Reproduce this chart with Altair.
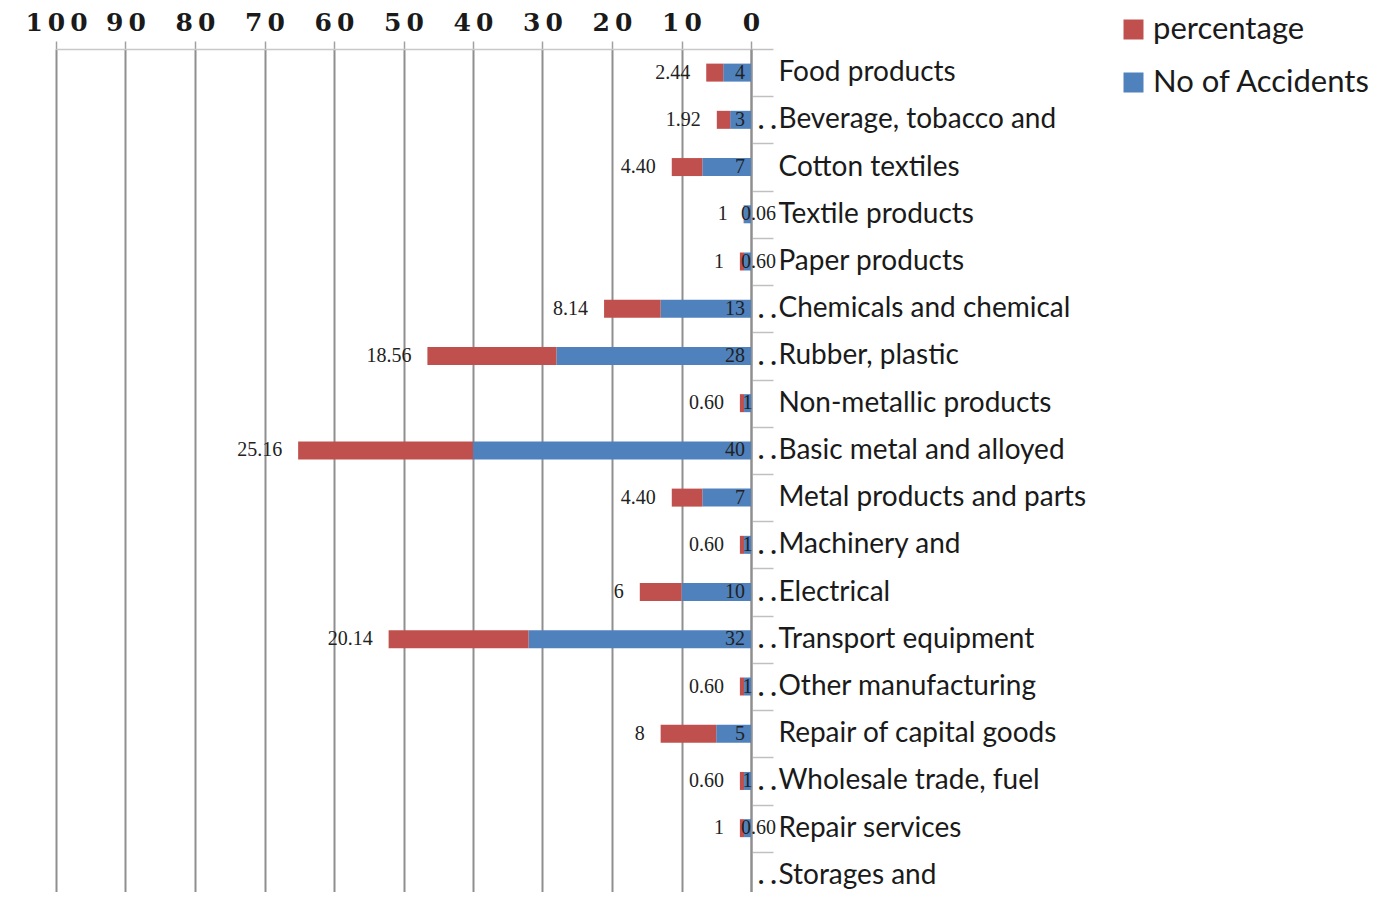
import altair as alt
import pandas as pd

categories = ["Food products", "Beverage, tobacco and", "Cotton textiles", "Textile products",
              "Paper products", "Chemicals and chemical", "Rubber, plastic", "Non-metallic products",
              "Basic metal and alloyed", "Metal products and parts", "Machinery and", "Electrical",
              "Transport equipment", "Other manufacturing", "Repair of capital goods",
              "Wholesale trade, fuel", "Repair services", "Storages and"]
accidents = [4, 3, 7, 1, 1, 13, 28, 1, 40, 7, 1, 10, 32, 1, 5, 1, 1, 0]
percentage = [2.44, 1.92, 4.40, 0.06, 0.60, 8.14, 18.56, 0.60, 25.16, 4.40, 0.60, 6, 20.14, 0.60, 8, 0.60, 0.60, 0]
left_labels = ["2.44", "1.92", "4.40", "1", "1", "8.14", "18.56", "0.60", "25.16", "4.40", "0.60", "6",
               "20.14", "0.60", "8", "0.60", "1", ""]
right_labels = ["4", "3", "7", "0.06", "0.60", "13", "28", "1", "40", "7", "1", "10", "32", "1", "5", "1",
                "0.60", ""]
truncated = [False, True, False, False, False, True, True, False, True, False, True, True, True, True,
             False, True, False, True]
tick_values = [0, 10, 20, 30, 40, 50, 60, 70, 80, 90, 100]

RED = "#C0504D"
BLUE = "#4F81BD"

rows = []
for i, c in enumerate(categories):
    rows.append({"cat": c, "series": "No of Accidents", "value": accidents[i], "ord": 0})
    rows.append({"cat": c, "series": "percentage", "value": percentage[i], "ord": 1})
long_df = pd.DataFrame(rows)

wide_df = pd.DataFrame({"cat": categories, "acc": accidents, "pct": percentage,
                        "llab": left_labels, "rlab": right_labels, "trunc": truncated})

yscale = alt.Scale(domain=categories, range=[0, 850], paddingInner=0, paddingOuter=0)
xscale = alt.Scale(domain=[0, 100], reverse=True, nice=False)
Y = alt.Y("cat:N", scale=yscale, sort=categories)

bars = alt.Chart(long_df).mark_bar(size=18).encode(
    x=alt.X("value:Q", stack="zero", scale=xscale,
            axis=alt.Axis(orient="top", values=tick_values, title=None, grid=True,
                          gridColor="#8f8f8f", gridWidth=2, domainColor="#c8c8c8", domainWidth=1.5,
                          tickColor="#a0a0a0", tickSize=8, tickWidth=1.5, labelPadding=6,
                          labelOverlap=False, labelBound=False, labelFlush=False,
                          labelFont="DejaVu Serif", labelFontSize=25, labelFontWeight="bold",
                          labelColor="#1a1a1a",
                          labelExpr="replace(datum.label, /(\\d)(?=\\d)/g, '$1\u2009')")),
    y=alt.Y("cat:N", scale=yscale, sort=categories,
            axis=alt.Axis(orient="right", title=None, tickBand="extent", tickSize=22,
                          tickColor="#c0c0c0", tickWidth=1.5, domainColor="#8f8f8f", domainWidth=2,
                          labelPadding=5, labelFont="Lato", labelFontSize=28, labelColor="#1a1a1a",
                          labelLimit=500, labelAlign="left")),
    color=alt.Color("series:N", scale=alt.Scale(domain=["percentage", "No of Accidents"], range=[RED, BLUE]),
                    legend=alt.Legend(title=None, orient="none", legendX=1062, legendY=-35,
                                      symbolType="square", symbolSize=400, symbolStrokeWidth=0,
                                      labelFont="Lato", labelFontSize=31, labelColor="#1a1a1a",
                                      labelLimit=600, rowPadding=21, labelOffset=4)),
    order=alt.Order("ord:Q"),
)

label_font = dict(font="Liberation Serif", fontSize=20, color="#222222", baseline="middle")

left_text = alt.Chart(wide_df).transform_calculate(total="datum.acc + datum.pct").mark_text(
    align="right", dx=-16, **label_font).encode(
    x=alt.X("total:Q", scale=xscale), y=Y, text="llab:N")

right_text_a = alt.Chart(wide_df).transform_filter(
    "length(datum.rlab) > 0 && length(datum.rlab) < 3 && datum.rlab != '1'").transform_calculate(
    zero="0").mark_text(align="right", dx=-6, **label_font).encode(
    x=alt.X("zero:Q", scale=xscale), y=Y, text="rlab:N")

right_text_b = alt.Chart(wide_df).transform_filter("datum.rlab == '1'").transform_calculate(
    mid="datum.acc / 2").mark_text(align="center", **label_font).encode(
    x=alt.X("mid:Q", scale=xscale), y=Y, text="rlab:N")

right_text_c = alt.Chart(wide_df).transform_filter("length(datum.rlab) >= 3").mark_text(
    align="left", dx=-3, **label_font).encode(
    x=alt.X("acc:Q", scale=xscale), y=Y, text="rlab:N")

dots = alt.Chart(wide_df).transform_filter("datum.trunc").mark_text(
    align="left", baseline="alphabetic", dy=9, font="Lato", fontSize=26, fontWeight="bold",
    color="#1a1a1a", text=". .").encode(
    x=alt.value(702), y=Y)

chart = alt.layer(bars, left_text, right_text_a, right_text_b, right_text_c, dots).properties(
    width=695, height=843,
    padding={"left": 48, "top": 41, "right": 628, "bottom": 0},
    autosize=alt.AutoSizeParams(type="none"),
).configure_view(stroke=None)

chart.save("out.html", embed_options={"renderer": "svg", "actions": False})
